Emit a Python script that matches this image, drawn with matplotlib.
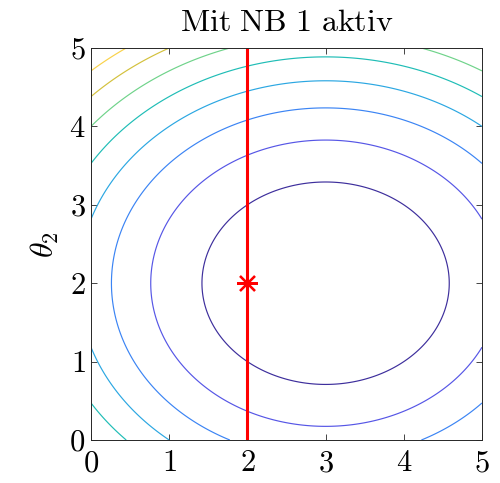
import numpy as np
import matplotlib
matplotlib.use("Agg")
import matplotlib.pyplot as plt

plt.rcParams['mathtext.fontset'] = 'cm'
plt.rcParams['font.family'] = ['cmr10', 'DejaVu Serif']
plt.rcParams['axes.formatter.use_mathtext'] = True

# Data: objective f = (theta1 - 3)^2 + 1.5 (theta2 - 2)^2
theta1_opt = 3.0
theta2_opt = 2.0
weight2 = 1.5
levels = [2.5, 5.0, 7.5, 10.0, 12.5, 15.0, 17.5, 20.0, 22.5]
level_colors = ['#3d2e9c', '#5656e6', '#3b84f4', '#2ba7e2', '#1fbdb6',
                '#6fd38a', '#d3c13c', '#f9d24a', '#f9e53a']
constraint_x = 2.0
point = (2.0, 2.0)
xticks = [0, 1, 2, 3, 4, 5]
yticks = [0, 1, 2, 3, 4, 5]

t1 = np.linspace(0, 5, 401)
t2 = np.linspace(0, 5, 401)
T1, T2 = np.meshgrid(t1, t2)
F = (T1 - theta1_opt) ** 2 + weight2 * (T2 - theta2_opt) ** 2

fig = plt.figure(figsize=(5.0, 4.83), dpi=100)
ax = fig.add_axes([0.182, 0.089, 0.782, 0.8116])

ax.contour(T1, T2, F, levels=levels, colors=level_colors, linewidths=0.85)
ax.axvline(constraint_x, color='#ff0000', linewidth=2.2)
ax.plot([point[0]], [point[1]], linestyle='none', marker=(8, 2, 0),
        markersize=15, markeredgewidth=1.6, color='#ff0000')

ax.set_xlim(0, 5)
ax.set_ylim(0, 5)
ax.set_xticks(xticks)
ax.set_yticks(yticks)
ax.set_xticklabels([f'${v}$' for v in xticks])
ax.set_yticklabels([f'${v}$' for v in yticks])
ax.tick_params(direction='in', top=True, right=True, length=4,
               width=0.6, color='#262626', labelsize=22)
ax.tick_params(axis='x', pad=7)
ax.tick_params(axis='y', pad=4)
for s in ax.spines.values():
    s.set_linewidth(0.7)
    s.set_color('#262626')

ax.set_title(r'$\mathrm{Mit\ NB\ 1\ aktiv}$', fontsize=23, pad=12)
ax.set_ylabel(r'$\theta_2$', fontsize=23, labelpad=6)

fig.savefig('out.png', dpi=100)
